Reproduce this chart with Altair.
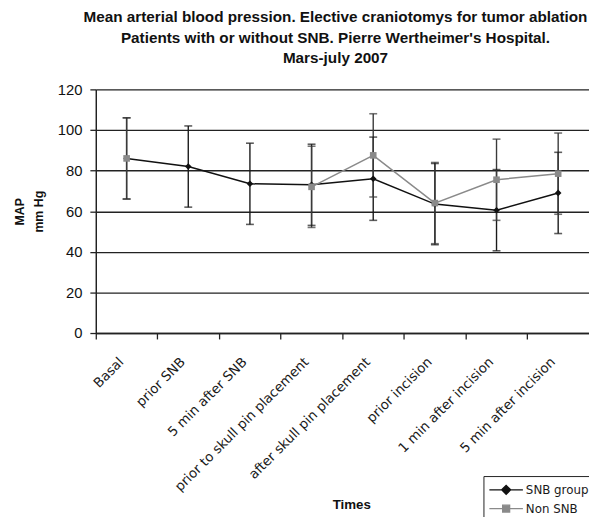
import altair as alt
import pandas as pd

times = ["Basal", "prior SNB", "5 min after SNB", "prior to skull pin placement",
         "after skull pin placement", "prior incision", "1 min after incision",
         "5 min after incision"]
snb_mean = [86, 82, 73.5, 73, 76, 63.5, 60.5, 69]
snb_sd = [20, 20, 20, 20, 20.5, 20, 20, 20]
non_mean = [86, None, None, 72, 87.5, 64, 75.5, 78.5]
non_sd = [20, None, None, 20, 20.5, 20, 20, 20]
groups = ["SNB group", "Non SNB"]

rows = []
for g, means, sds in [(groups[0], snb_mean, snb_sd), (groups[1], non_mean, non_sd)]:
    seg = 0
    prev_ok = False
    for t, m, s in zip(times, means, sds):
        if m is None:
            if prev_ok:
                seg += 1
            prev_ok = False
            continue
        rows.append({"Time": t, "Group": g, "MAP": m, "lo": m - s, "hi": m + s,
                     "seg": f"{g}-{seg}"})
        prev_ok = True
df = pd.DataFrame(rows)

FONT = "Liberation Sans"
WIDE = "DejaVu Sans"
line_colors = ["#111111", "#8a8a8a"]
bar_colors = ["#1a1a1a", "#3a3a3a"]

x_enc = alt.X("Time:N", sort=times,
              scale=alt.Scale(type="band", paddingInner=0, paddingOuter=0),
              axis=alt.Axis(title="Times", labelAngle=-45, labelFontSize=13.5,
                            labelFont=WIDE, labelColor="#1a1a1a", labelPadding=16,
                            labelOffset=-10, labelLimit=0,
                            tickSize=6, tickColor="#222", tickWidth=1.3,
                            domainColor="#222", domainWidth=1.5, bandPosition=0,
                            titleFont=FONT, titleFontSize=13.5, titleFontWeight="bold",
                            titleColor="#111", titlePadding=4, titleX=259, grid=False))
y_enc = alt.Y("MAP:Q", scale=alt.Scale(domain=[0, 120], nice=False, zero=True),
              axis=alt.Axis(title=["MAP", "mm Hg"], values=[0, 20, 40, 60, 80, 100, 120],
                            labelFont=FONT, labelFontSize=15, labelColor="#111",
                            labelPadding=8, tickSize=6, tickColor="#222", tickWidth=1.3,
                            domainColor="#222", domainWidth=1.5,
                            grid=True, gridColor="#222", gridWidth=1.4,
                            titleFont=FONT, titleFontSize=12.5, titleFontWeight="bold",
                            titleColor="#111", titlePadding=12, titleLineHeight=19))

base = alt.Chart(df)

bars = base.mark_rule(strokeWidth=1.4).encode(
    x=x_enc, y=alt.Y("lo:Q", scale=alt.Scale(domain=[0, 120])), y2="hi:Q",
    color=alt.Color("Group:N", scale=alt.Scale(domain=groups, range=bar_colors), legend=None))
caps_hi = base.mark_tick(size=8, thickness=1.6).encode(
    x=x_enc, y="hi:Q",
    color=alt.Color("Group:N", scale=alt.Scale(domain=groups, range=bar_colors), legend=None))
caps_lo = base.mark_tick(size=8, thickness=1.6).encode(
    x=x_enc, y="lo:Q",
    color=alt.Color("Group:N", scale=alt.Scale(domain=groups, range=bar_colors), legend=None))
lines = base.mark_line(strokeWidth=1.5).encode(
    x=x_enc, y=y_enc, detail="seg:N",
    color=alt.Color("Group:N", scale=alt.Scale(domain=groups, range=line_colors), legend=None))
points = base.mark_point(filled=True, opacity=1, size=45).encode(
    x=x_enc, y="MAP:Q",
    color=alt.Color("Group:N", scale=alt.Scale(domain=groups, range=line_colors), legend=None),
    shape=alt.Shape("Group:N", scale=alt.Scale(domain=groups, range=["diamond", "square"]),
                    legend=None))

legend_paths = [
    "M-1.7,0L1.7,0M0,-0.45L0.45,0L0,0.45L-0.45,0Z",
    "M-1.7,0L1.7,0M-0.35,-0.35L0.35,-0.35L0.35,0.35L-0.35,0.35Z",
]
leg = alt.Legend(title=None, orient="none", legendX=393, legendY=392,
                 symbolSize=400, symbolStrokeWidth=1.4, symbolOffset=9, labelOffset=9,
                 labelFont=WIDE, labelFontSize=12, labelColor="#1a1a1a",
                 rowPadding=0, padding=3, strokeColor="#222", fillColor="white")
legend_layer = base.mark_point(filled=True, opacity=1).encode(
    x=x_enc, y="MAP:Q",
    fill=alt.Fill("Group:N", scale=alt.Scale(domain=groups, range=line_colors), legend=leg),
    stroke=alt.Stroke("Group:N", scale=alt.Scale(domain=groups, range=line_colors), legend=leg),
    shape=alt.Shape("Group:N", scale=alt.Scale(domain=groups, range=legend_paths), legend=leg),
).transform_filter("false")

chart = alt.layer(bars, caps_hi, caps_lo, lines, points, legend_layer).resolve_scale(
    color="independent", shape="independent", fill="independent", stroke="independent"
).properties(
    width=500, height=247,
    title=alt.Title(["Mean arterial blood pression. Elective craniotomys for tumor ablation",
                     "Patients with or without SNB. Pierre Wertheimer's Hospital.",
                     "Mars-july 2007"],
                    font=FONT, fontSize=15.5, fontWeight="bold", color="#111",
                    lineHeight=21, anchor="middle", offset=16, dx=-7),
    autosize=alt.AutoSizeParams(type="none"),
    padding={"left": 89, "top": 79, "right": 0, "bottom": 183},
).configure_view(stroke=None)

chart.save("out.html", embed_options={"renderer": "svg", "actions": False})
